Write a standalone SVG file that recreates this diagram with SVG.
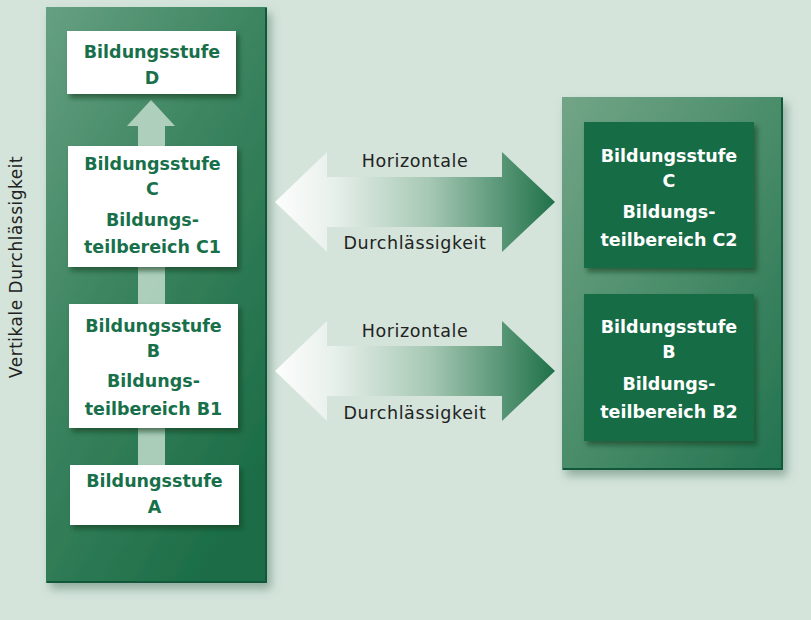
<svg xmlns="http://www.w3.org/2000/svg" width="811" height="620" viewBox="0 0 811 620">
<defs>
<style>
.bt{font-family:"DejaVu Sans","Liberation Sans",sans-serif;font-weight:bold;font-size:17.5px;text-anchor:middle}
.g{fill:#18704a}
.w{fill:#ffffff}
.lab{font-family:"DejaVu Sans","Liberation Sans",sans-serif;font-size:17.5px;fill:#222;text-anchor:middle;letter-spacing:0.6px}
.wbox{fill:#ffffff;filter:url(#bsh)}
.dbox{fill:#146c45;filter:url(#bsh)}
.edge{fill:none;stroke:#11583a;stroke-width:2}
</style>
<filter id="psh" x="-20%" y="-10%" width="140%" height="125%">
<feDropShadow dx="4" dy="6" stdDeviation="5" flood-color="#4f7562" flood-opacity="0.5"/>
</filter>
<filter id="bsh" x="-20%" y="-20%" width="140%" height="150%">
<feDropShadow dx="3" dy="4" stdDeviation="2.5" flood-color="#0b3a24" flood-opacity="0.6"/>
</filter>
<linearGradient id="lp" x1="0" y1="0" x2="0.7" y2="1">
<stop offset="0" stop-color="#66a082"/>
<stop offset="0.45" stop-color="#3d8561"/>
<stop offset="1" stop-color="#1c6d47"/>
</linearGradient>
<linearGradient id="rp" x1="0" y1="0" x2="1" y2="1">
<stop offset="0" stop-color="#72a587"/>
<stop offset="0.5" stop-color="#4a8d6a"/>
<stop offset="1" stop-color="#237350"/>
</linearGradient>
<linearGradient id="ha" gradientUnits="userSpaceOnUse" x1="275" y1="0" x2="555" y2="0">
<stop offset="0" stop-color="#ffffff" stop-opacity="0.95"/>
<stop offset="0.2" stop-color="#e9f1ec"/>
<stop offset="0.55" stop-color="#a6c8b4"/>
<stop offset="1" stop-color="#1f7149"/>
</linearGradient>
</defs>
<rect width="811" height="620" fill="#d4e4db"/>
<text class="lab" transform="translate(22,267) rotate(-90)" style="font-size:17px;letter-spacing:0.5px">Vertikale Durchlässigkeit</text>
<g id="panel-left">
<rect x="46" y="7" width="221" height="576" fill="url(#lp)" filter="url(#psh)"/>
<path class="edge" d="M266,8 L266,582 L47,582"/>
</g>
<g id="panel-right">
<rect x="562" y="97" width="221" height="373" fill="url(#rp)" filter="url(#psh)"/>
<path class="edge" d="M782,98 L782,469 L563,469"/>
</g>
<g id="connectors">
<path id="vertical-arrow" d="M138,465 L138,126 L127,126 L151,100 L175,126 L165,126 L165,465 Z" fill="#bcd8c7" fill-opacity="0.88"/>
<g id="horizontal-1">
<path d="M275,202 L327,152 L327,177 L502,177 L502,152 L555,202 L502,252 L502,227 L327,227 L327,252 Z" fill="url(#ha)"/>
<text class="lab" x="415" y="167">Horizontale</text>
<text class="lab" x="415" y="249">Durchlässigkeit</text>
</g>
<g id="horizontal-2">
<path d="M275,371 L327,321 L327,346 L502,346 L502,321 L555,371 L502,421 L502,396 L327,396 L327,421 Z" fill="url(#ha)"/>
<text class="lab" x="415" y="337">Horizontale</text>
<text class="lab" x="415" y="419">Durchlässigkeit</text>
</g>
</g>
<g id="node-D">
<rect class="wbox" x="67" y="31" width="169" height="63"/>
<text class="bt g" x="152" y="58">Bildungsstufe</text>
<text class="bt g" x="152" y="84">D</text>
</g>
<g id="node-C1">
<rect class="wbox" x="68" y="146" width="169" height="121"/>
<text class="bt g" x="152.5" y="170">Bildungsstufe</text>
<text class="bt g" x="152.5" y="195">C</text>
<text class="bt g" x="152.5" y="226">Bildungs-</text>
<text class="bt g" x="152.5" y="253">teilbereich C1</text>
</g>
<g id="node-B1">
<rect class="wbox" x="69" y="304" width="169" height="124"/>
<text class="bt g" x="153.5" y="332">Bildungsstufe</text>
<text class="bt g" x="153.5" y="357">B</text>
<text class="bt g" x="153.5" y="387">Bildungs-</text>
<text class="bt g" x="153.5" y="415">teilbereich B1</text>
</g>
<g id="node-A">
<rect class="wbox" x="70" y="465" width="169" height="60"/>
<text class="bt g" x="154.5" y="487">Bildungsstufe</text>
<text class="bt g" x="154.5" y="513">A</text>
</g>
<g id="node-C2">
<rect class="dbox" x="584" y="122" width="170" height="146"/>
<text class="bt w" x="669" y="162">Bildungsstufe</text>
<text class="bt w" x="669" y="187">C</text>
<text class="bt w" x="669" y="218">Bildungs-</text>
<text class="bt w" x="669" y="246">teilbereich C2</text>
</g>
<g id="node-B2">
<rect class="dbox" x="584" y="294" width="170" height="147"/>
<text class="bt w" x="669" y="333">Bildungsstufe</text>
<text class="bt w" x="669" y="358">B</text>
<text class="bt w" x="669" y="390">Bildungs-</text>
<text class="bt w" x="669" y="418">teilbereich B2</text>
</g>
</svg>
